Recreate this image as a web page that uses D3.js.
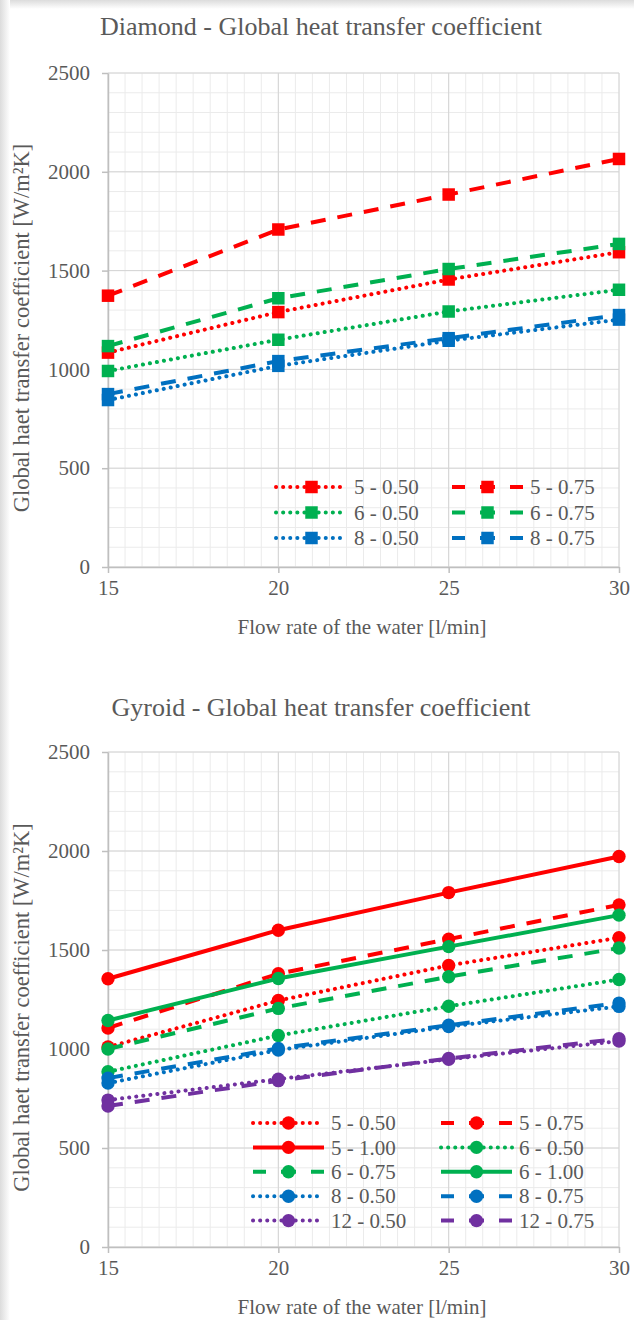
<!DOCTYPE html>
<html>
<head>
<meta charset="utf-8">
<script src="https://cdn.jsdelivr.net/npm/d3@7"></script>
<style>
	body { margin: 0; background: #ffffff; }
	svg { display: block; font-family: 'Liberation Serif', 'Times New Roman', serif; }
</style>
</head>
<body>
<div id="chart"></div>
<script>
// data
var flow_rates = [15, 20, 25, 30];
var x_ticks = [15, 20, 25, 30];
var y_ticks = [0, 500, 1000, 1500, 2000, 2500];

var diamond_labels = ['5 - 0.50', '5 - 0.75', '6 - 0.50', '6 - 0.75', '8 - 0.50', '8 - 0.75'];
var diamond_values = [
	[1085, 1290, 1455, 1593],
	[1373, 1708, 1885, 2065],
	[992, 1150, 1293, 1403],
	[1118, 1360, 1508, 1635],
	[845, 1018, 1145, 1252],
	[875, 1042, 1158, 1275]
];

var gyroid_labels = ['5 - 0.50', '5 - 0.75', '5 - 1.00', '6 - 0.50', '6 - 0.75', '6 - 1.00',
	'8 - 0.50', '8 - 0.75', '12 - 0.50', '12 - 0.75'];
var gyroid_values = [
	[1010, 1245, 1422, 1562],
	[1106, 1380, 1555, 1728],
	[1355, 1600, 1790, 1972],
	[885, 1068, 1216, 1351],
	[1000, 1205, 1365, 1510],
	[1144, 1356, 1517, 1676],
	[828, 995, 1113, 1215],
	[853, 1003, 1120, 1232],
	[742, 848, 948, 1040],
	[712, 840, 952, 1052]
];

// styles
var cell_color = {'5': '#ff0000', '6': '#00b050', '8': '#0070c0', '12': '#7030a0'};
var text_color = '#595959';
var serif = "'Liberation Serif', 'Times New Roman', serif";

function series_style(label) {
	var parts = label.split(' - ');
	var kind = parts[1] == '0.50' ? 'dot' : (parts[1] == '0.75' ? 'dash' : 'solid');
	return {color: cell_color[parts[0]], kind: kind};
}

function apply_stroke(sel, st, legend) {
	sel.attr('fill', 'none')
		.attr('stroke', st.color)
		.attr('stroke-width', 4);
	if (st.kind == 'dot') {
		sel.attr('stroke-dasharray', '0.1,7').attr('stroke-linecap', 'round');
	} else if (st.kind == 'dash') {
		sel.attr('stroke-dasharray', legend ? '13,15,15,15,13' : '15,12').attr('stroke-linecap', 'butt');
	}
}

var svg = d3.select('#chart')
	.append('svg')
	.attr('width', 634)
	.attr('height', 1320);

// card shadow on left and top
var defs = svg.append('defs');
var gl = defs.append('linearGradient').attr('id', 'shade_left').attr('x1', 0).attr('x2', 1).attr('y1', 0).attr('y2', 0);
gl.append('stop').attr('offset', 0).attr('stop-color', '#dcdcdc');
gl.append('stop').attr('offset', 1).attr('stop-color', '#ffffff');
var gt = defs.append('linearGradient').attr('id', 'shade_top').attr('x1', 0).attr('x2', 0).attr('y1', 0).attr('y2', 1);
gt.append('stop').attr('offset', 0).attr('stop-color', '#dcdcdc');
gt.append('stop').attr('offset', 1).attr('stop-color', '#ffffff');
svg.append('rect').attr('x', 0).attr('y', 0).attr('width', 634).attr('height', 9).attr('fill', 'url(#shade_top)');
svg.append('rect').attr('x', 0).attr('y', 0).attr('width', 10).attr('height', 1320).attr('fill', 'url(#shade_left)');


/**
 * Draws one line chart
 * @param {object} opt - title, labels, values, layout
 * @return {void} Nothing
 */
function draw_chart(opt) {
	var x = d3.scaleLinear().domain([15, 30]).range([108, 619]);
	var y = d3.scaleLinear().domain([0, 2500]).range([opt.bottom, opt.top]);
	var g = svg.append('g');

	// minor grid
	g.append('g').selectAll('line')
		.data(d3.range(15, 30.01, 0.5))
		.enter().append('line')
			.attr('x1', d => x(d)).attr('x2', d => x(d))
			.attr('y1', y(0)).attr('y2', y(2500))
			.attr('stroke', '#ebebeb').attr('stroke-width', 1);
	g.append('g').selectAll('line')
		.data(d3.range(0, 2501, 100))
		.enter().append('line')
			.attr('x1', x(15)).attr('x2', x(30))
			.attr('y1', d => y(d)).attr('y2', d => y(d))
			.attr('stroke', '#ebebeb').attr('stroke-width', 1);

	// major grid
	g.append('g').selectAll('line')
		.data(x_ticks)
		.enter().append('line')
			.attr('x1', d => x(d)).attr('x2', d => x(d))
			.attr('y1', y(0)).attr('y2', y(2500))
			.attr('stroke', '#d4d4d4').attr('stroke-width', 1);
	g.append('g').selectAll('line')
		.data(y_ticks)
		.enter().append('line')
			.attr('x1', x(15)).attr('x2', x(30))
			.attr('y1', d => y(d)).attr('y2', d => y(d))
			.attr('stroke', '#d4d4d4').attr('stroke-width', 1);

	// axes
	var xa = g.append('g')
		.attr('transform', 'translate(0,' + y(0) + ')')
		.call(d3.axisBottom(x).tickValues(x_ticks).tickFormat(d3.format('d'))
			.tickSize(6).tickSizeOuter(0).tickPadding(7));
	var ya = g.append('g')
		.attr('transform', 'translate(' + x(15) + ',0)')
		.call(d3.axisLeft(y).tickValues(y_ticks).tickFormat(d3.format('d'))
			.tickSize(6).tickSizeOuter(0).tickPadding(12));
	[xa, ya].forEach(function(a) {
		a.attr('font-family', serif).attr('font-size', 21);
		a.selectAll('path, line').attr('stroke', '#bfbfbf').attr('stroke-width', 1.5);
		a.selectAll('text').attr('fill', text_color);
	});

	// title
	svg.append('text')
		.attr('x', 321)
		.attr('y', opt.title_y)
		.attr('text-anchor', 'middle')
		.attr('fill', text_color)
		.style('font-size', '26px')
		.text(opt.title);

	// x-axis label
	svg.append('text')
		.attr('x', 362)
		.attr('y', opt.bottom + 67)
		.attr('text-anchor', 'middle')
		.attr('fill', text_color)
		.style('font-size', '21px')
		.text('Flow rate of the water [l/min]');

	// y-axis label
	svg.append('text')
		.attr('transform', 'translate(29,' + ((opt.top + opt.bottom) / 2 + 8) + ') rotate(-90)')
		.attr('text-anchor', 'middle')
		.attr('fill', text_color)
		.style('font-size', '22.5px')
		.text('Global haet transfer coefficient [W/m²K]');

	var line = d3.line()
		.x((d, i) => x(flow_rates[i]))
		.y(d => y(d));

	var marker = d3.symbol().type(opt.marker).size(opt.marker_size);

	// series
	opt.values.forEach(function(vals, k) {
		var st = series_style(opt.labels[k]);
		var s = g.append('g');
		s.append('path')
			.attr('d', line(vals))
			.call(apply_stroke, st, false);
		s.selectAll('path.pt')
			.data(vals)
			.enter().append('path')
				.attr('class', 'pt')
				.attr('transform', (d, i) => 'translate(' + x(flow_rates[i]) + ',' + y(d) + ')')
				.attr('d', marker)
				.attr('fill', st.color);
	});

	// legend
	opt.labels.forEach(function(lab, k) {
		var st = series_style(lab);
		var col = k % 2;
		var row = Math.floor(k / 2);
		var lx = opt.legend_x[col];
		var ly = opt.legend_y + row * opt.legend_step;
		var lg = svg.append('g');
		lg.append('line')
			.attr('x1', lx).attr('x2', lx + 71)
			.attr('y1', ly).attr('y2', ly)
			.call(apply_stroke, st, true);
		lg.append('path')
			.attr('transform', 'translate(' + (lx + 35.5) + ',' + ly + ')')
			.attr('d', marker)
			.attr('fill', st.color);
		lg.append('text')
			.attr('x', lx + 78)
			.attr('y', ly)
			.attr('dy', '0.34em')
			.attr('fill', text_color)
			.style('font-size', '21px')
			.text(lab);
	});
}

draw_chart({
	title: 'Diamond - Global heat transfer coefficient',
	labels: diamond_labels,
	values: diamond_values,
	top: 73,
	bottom: 567,
	title_y: 35,
	marker: d3.symbolSquare,
	marker_size: 156,
	legend_x: [276, 452],
	legend_y: 487,
	legend_step: 25.5
});

draw_chart({
	title: 'Gyroid - Global heat transfer coefficient',
	labels: gyroid_labels,
	values: gyroid_values,
	top: 752,
	bottom: 1247,
	title_y: 716,
	marker: d3.symbolCircle,
	marker_size: 140,
	legend_x: [253, 441],
	legend_y: 1123,
	legend_step: 24.4
});
</script>
</body>
</html>
